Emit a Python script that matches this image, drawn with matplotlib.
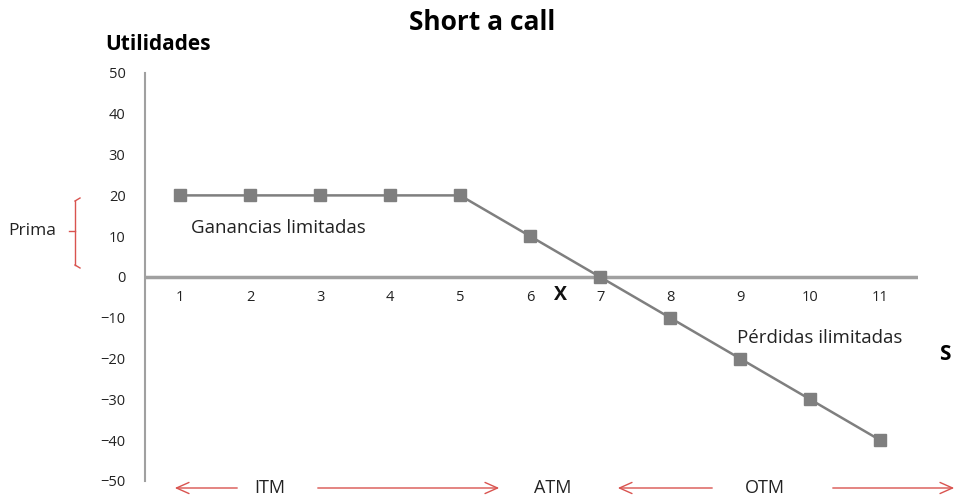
import matplotlib
matplotlib.use("Agg")
import matplotlib.pyplot as plt
from matplotlib.patches import FancyArrowPatch

s_values = [1, 2, 3, 4, 5, 6, 7, 8, 9, 10, 11]
profit = [20, 20, 20, 20, 20, 10, 0, -10, -20, -30, -40]
y_ticks = [50, 40, 30, 20, 10, 0, -10, -20, -30, -40, -50]

plt.rcParams['font.family'] = ['Open Sans', 'DejaVu Sans']
txt = '#222222'
red = '#d9534f'

fig = plt.figure(figsize=(9.59, 4.96), dpi=100)
ax = fig.add_axes([145 / 959, 1 - 481 / 496, (918 - 145) / 959, (481 - 73) / 496])

ax.plot(s_values, profit, color='#7f7f7f', lw=1.8, marker='s', markersize=9,
        markerfacecolor='#7f7f7f', markeredgecolor='#7f7f7f')

ax.set_xlim(0.5, 11.54)
ax.set_ylim(-50, 50)
ax.set_yticks(y_ticks)
ax.set_xticks([])
ax.tick_params(axis='y', length=0, labelsize=10.5, labelcolor=txt, pad=14)
for sp in ['top', 'right', 'bottom']:
    ax.spines[sp].set_visible(False)
ax.spines['left'].set_color('#a0a0a0')
ax.spines['left'].set_linewidth(1.5)
ax.axhline(0, color='#a0a0a0', lw=2.5, zorder=0)

for s in s_values:
    ax.text(s, -5, str(s), ha='center', va='center', fontsize=10.5, color=txt)

ax.text(6.43, -4.5, 'X', ha='center', va='center', fontsize=14, fontweight='bold', color='#111111')
ax.text(1.15, 12, 'Ganancias limitadas', ha='left', va='center', fontsize=13.5, color=txt)
ax.text(8.95, -15, 'Pérdidas ilimitadas', ha='left', va='center', fontsize=13.5, color=txt)

fig.text(482 / 959, 1 - 22 / 496, 'Short a call', ha='center', va='center', fontsize=19, fontweight='bold')
fig.text(158 / 959, 1 - 45 / 496, 'Utilidades', ha='center', va='center', fontsize=15, fontweight='bold')
fig.text(945 / 959, 1 - 355 / 496, 'S', ha='center', va='center', fontsize=15, fontweight='bold')

# Prima bracket
fig.text(8 / 959, 1 - 231 / 496, 'Prima', ha='left', va='center', fontsize=12.5, color=txt)
bx = 75
by0, by1, bym = 198, 268, 231
fig.add_artist(plt.Line2D([bx / 959, bx / 959], [1 - (by0 + 3) / 496, 1 - (by1 - 3) / 496],
                          transform=fig.transFigure, color=red, lw=1))
for yy, dy in [(by0, 3), (by1, -3)]:
    fig.add_artist(plt.Line2D([bx / 959, (bx + 5) / 959], [1 - (yy + dy) / 496, 1 - yy / 496],
                              transform=fig.transFigure, color=red, lw=1))
fig.add_artist(plt.Line2D([(bx - 6) / 959, bx / 959], [1 - bym / 496, 1 - bym / 496],
                          transform=fig.transFigure, color=red, lw=1))

# money-ness arrows
ya = 1 - 488 / 496
def arrow(x0, x1):
    fig.add_artist(FancyArrowPatch((x0 / 959, ya), (x1 / 959, ya), transform=fig.transFigure,
                                   arrowstyle='->,head_length=9,head_width=4', color=red, lw=1))

arrow(240, 172)
arrow(315, 502)
arrow(715, 615)
arrow(830, 957)
for x, lab in [(270, 'ITM'), (553, 'ATM'), (765, 'OTM')]:
    fig.text(x / 959, ya, lab, ha='center', va='center', fontsize=13, color=txt)

fig.savefig('out.png', dpi=100)
